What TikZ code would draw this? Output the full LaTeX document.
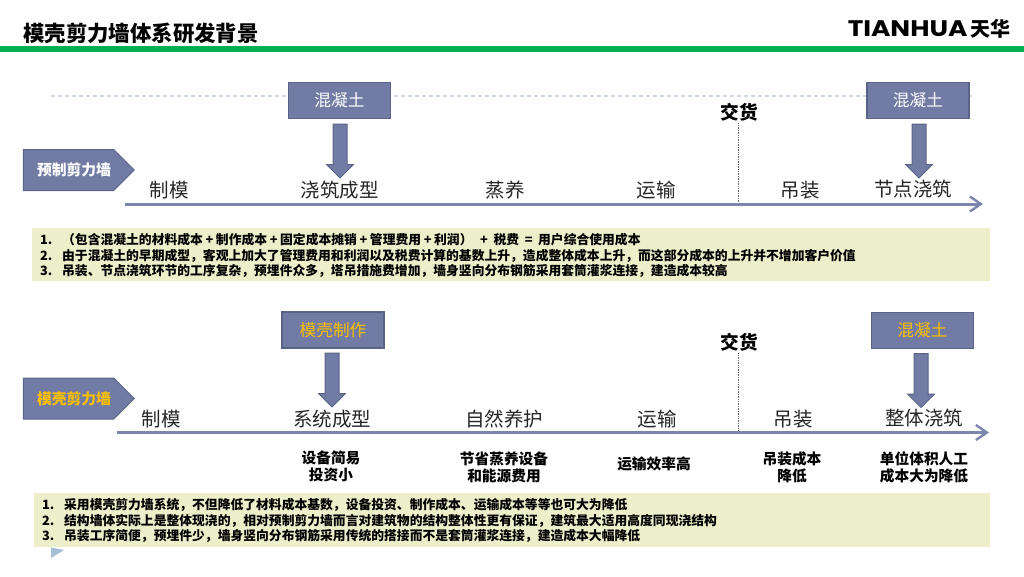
\documentclass[tikz,border=0pt]{standalone}
\usepackage{fontspec}
\usepackage{xcolor}
\setmainfont{Noto Sans CJK SC}
\newfontfamily\logofont{Poppins}
\usetikzlibrary{arrows.meta,shapes.arrows,shapes.symbols}
\definecolor{slate}{HTML}{717BA3}
\definecolor{slateedge}{HTML}{5A6488}
\definecolor{axisblue}{HTML}{7C86AD}
\definecolor{notebg}{HTML}{ECEFC9}
\definecolor{rulegreen}{HTML}{00B050}
\definecolor{gold}{HTML}{FFC000}
\definecolor{dashblue}{HTML}{CFDAE6}
\definecolor{cornerblue}{HTML}{A5BFD6}
\tikzset{
  costbox/.style={draw=slateedge,line width=1.2pt,fill=slate,minimum width=102pt,minimum height=36pt,inner sep=0pt,text=white,font=\fontsize{16.7}{18}\selectfont},
  downarrow/.style={draw=slateedge,line width=1pt,fill=slate,single arrow,shape border rotate=270,minimum height=54pt,single arrow head extend=6.5pt,single arrow tip angle=90,single arrow head indent=0pt,inner sep=6.5pt},
  walltag/.style={draw=slateedge,line width=1pt,fill=slate,signal,signal to=east,signal pointer angle=90,minimum width=111pt,minimum height=41pt,inner sep=0pt,font=\bfseries\fontsize{14.8}{16}\selectfont},
  steplabel/.style={inner sep=0pt,text=black!85,font=\fontsize{19.5}{21}\selectfont},
  gainlabel/.style={inner sep=0pt,align=center,font=\bfseries\fontsize{14.7}{17.5}\selectfont},
  delivery/.style={inner sep=0pt,font=\bfseries\fontsize{18.7}{20}\selectfont},
  noteline/.style={inner sep=0pt,anchor=west,font=\bfseries\fontsize{12.8}{14}\selectfont},
  axisline/.style={draw=axisblue,line width=3pt,-{Straight Barb[length=11pt,width=15pt,line width=2.4pt]}},
  deliverymark/.style={draw=black!60,line width=0.7pt,densely dotted},
}
\newcommand{\notenum}[1]{\makebox[22pt][l]{#1}}
\newcommand{\wideop}[1]{\hspace{2.6pt}#1\hspace{2.6pt}}
\begin{document}
\begin{tikzpicture}[x=1pt,y=-1pt]
\useasboundingbox (0,0) rectangle (1024,576);
% header
\fill[rulegreen] (0,46) rectangle (1024,52);
\node[inner sep=0pt,anchor=west,font=\bfseries\fontsize{21.4}{24}\selectfont] at (23,33) (title) {模壳剪力墙体系研发背景};
\node[inner sep=0pt,anchor=east,font=\bfseries\fontsize{20}{24}\selectfont] at (1011,29) (logo) {\scalebox{1.17}[1]{\logofont\fontsize{22.5}{24}\selectfont TIANHUA}\,天华};
% upper row
\coordinate (dashL) at (51,96);
\coordinate (dashR) at (973,96);
\draw[draw=dashblue,line width=1.2pt,dash pattern=on 4pt off 3pt] (dashL) -- (dashR);
\node[costbox] at (339.5,100.5) (concreteA) {混凝土};
\node[costbox] at (918,100.5) (concreteB) {混凝土};
\node[downarrow] at (340,147.5) (pourA) {};
\node[downarrow] at (919,147.5) (pourB) {};
\node[walltag,text=white] at (68.5,170) (precast) {\hspace*{11pt}预制剪力墙};
\coordinate (axisAL) at (125,204);
\coordinate (axisAR) at (983,204);
\node[delivery] at (739,112) (deliverA) {交货};
\coordinate (deliverAend) at (738,203);
\draw[deliverymark] (deliverA.south)++(-1,2) -- (deliverAend);
\draw[axisline] (axisAL) -- (axisAR);
\node[steplabel] at (169,190) (mouldA) {制模};
\node[steplabel] at (339.5,190) (castA) {浇筑成型};
\node[steplabel] at (505,190) (cureA) {蒸养};
\node[steplabel] at (656,190) (transA) {运输};
\node[steplabel] at (800,190) (liftA) {吊装};
\node[steplabel] at (913,189) (jointA) {节点浇筑};
% upper notes
\node[fill=notebg,minimum width=958pt,minimum height=53pt,inner sep=0pt] at (511,254.5) (notesA) {};
\node[noteline] at (40,240) (noteA1) {\notenum{1.}（包含混凝土的材料成本\wideop{+}制作成本\wideop{+}固定成本摊销\wideop{+}管理费用\wideop{+}利润）\hspace{5pt}\wideop{+}\hspace{3pt}税费\hspace{3pt}\wideop{=}\hspace{3pt}用户综合使用成本};
\node[noteline] at (40,255.5) (noteA2) {\notenum{2.}由于混凝土的早期成型，客观上加大了管理费用和利润以及税费计算的基数上升，造成整体成本上升，而这部分成本的上升并不增加客户价值};
\node[noteline] at (40,271) (noteA3) {\notenum{3.}吊装、节点浇筑环节的工序复杂，预埋件众多，塔吊措施费增加，墙身竖向分布钢筋采用套筒灌浆连接，建造成本较高};
% lower row
\node[costbox,text=gold] at (333,330) (formwork) {模壳制作};
\node[costbox,text=gold] at (922.5,330.5) (concreteC) {混凝土};
\node[downarrow] at (332,376.5) (pourC) {};
\node[downarrow] at (921,377) (pourD) {};
\node[walltag,text=gold] at (68.5,398.5) (shellwall) {\hspace*{11pt}模壳剪力墙};
\coordinate (axisBL) at (117,432.5);
\coordinate (axisBR) at (989,432.5);
\node[delivery] at (739,342) (deliverB) {交货};
\coordinate (deliverBend) at (738,431);
\draw[deliverymark] (deliverB.south)++(-1,2) -- (deliverBend);
\draw[axisline] (axisBL) -- (axisBR);
\node[steplabel] at (161,419) (mouldB) {制模};
\node[steplabel] at (332,419) (castB) {系统成型};
\node[steplabel] at (504,419) (cureB) {自然养护};
\node[steplabel] at (657,419) (transB) {运输};
\node[steplabel] at (793,419) (liftB) {吊装};
\node[steplabel] at (924,418.5) (wholeB) {整体浇筑};
\node[gainlabel] at (331,466.5) (gainA) {设备简易\\投资小};
\node[gainlabel] at (504,467.5) (gainB) {节省蒸养设备\\和能源费用};
\node[gainlabel] at (654,464) (gainC) {运输效率高};
\node[gainlabel] at (792,467.5) (gainD) {吊装成本\\降低};
\node[gainlabel] at (924,467.5) (gainE) {单位体积人工\\成本大为降低};
% lower notes
\node[fill=notebg,minimum width=956pt,minimum height=54pt,inner sep=0pt] at (512,520) (notesB) {};
\node[noteline] at (42,505) (noteB1) {\notenum{1.}采用模壳剪力墙系统，不但降低了材料成本基数，设备投资、制作成本、运输成本等等也可大为降低};
\node[noteline] at (42,520.5) (noteB2) {\notenum{2.}结构墙体实际上是整体现浇的，相对预制剪力墙而言对建筑物的结构整体性更有保证，建筑最大适用高度同现浇结构};
\node[noteline] at (42,535.5) (noteB3) {\notenum{3.}吊装工序简便，预埋件少，墙身竖向分布钢筋采用传统的搭接而不是套筒灌浆连接，建造成本大幅降低};
\fill[cornerblue] (51,547.5) -- (64,550) -- (51,558) -- cycle;
\end{tikzpicture}
\end{document}
